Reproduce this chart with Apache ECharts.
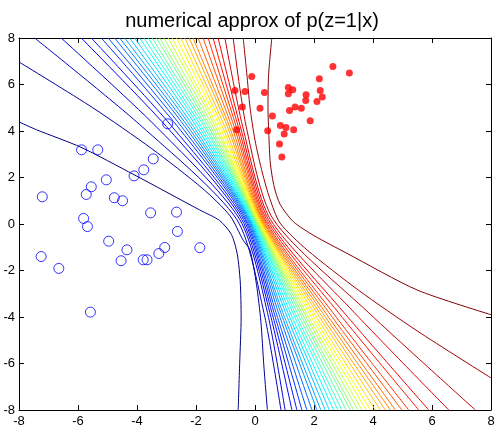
<!DOCTYPE html>
<html><head><meta charset="utf-8">
<script src="https://cdn.jsdelivr.net/npm/echarts@6/dist/echarts.min.js"></script>
<style>html,body{margin:0;padding:0;background:#fff}#c{width:498px;height:429px}</style>
</head><body><div id="c"></div>
<script>
const titleText = 'numerical approx of p(z=1|x)';
const axisMin = -8, axisMax = 8, axisStep = 2;

// class 0 samples (open blue circles)
const blueX = [-5.88,-5.33,-3.45,-3.77,-4.10,-5.04,-7.21,-5.55,-5.72,-4.77,-4.49,-3.54,-2.66,-5.81,-5.68,-2.63,-4.96,-4.34,-3.06,-3.26,-7.25,-4.54,-3.79,-3.66,-6.65,-5.58,-1.87,-2.96];
const blueY = [3.19,3.19,2.80,2.33,2.07,1.90,1.17,1.60,1.27,1.13,1.00,0.48,0.51,0.24,-0.11,-0.32,-0.74,-1.11,-1.01,-1.27,-1.40,-1.58,-1.54,-1.54,-1.91,-3.79,-1.02,4.31];

// class 1 samples (filled red dots)
const redX = [-0.11,-0.68,-0.34,0.32,-0.43,0.17,1.13,1.28,1.13,0.59,1.17,1.36,1.57,1.73,1.72,2.10,2.21,2.28,2.18,2.64,3.20,1.87,0.86,1.05,1.31,0.99,0.43,-0.62,0.83,0.91];
const redY = [6.34,5.74,5.70,5.66,5.03,4.98,5.87,5.77,5.60,4.65,4.88,5.03,4.98,5.56,5.31,5.27,5.74,5.46,6.25,6.77,6.49,4.44,4.24,4.15,4.05,3.87,4.01,4.05,3.44,2.88];

// contour lines of p(z=1|x), lowest level first
const contourLines = [
 [[-8,4.39],[-7.4,4.05],[-5.9,3.3],[-4.1,2.12],[-1.87,0.6],[-1.2,0.15],[-0.8,-0.45],[-0.6,-1.3],[-0.5,-2.5],[-0.47,-4],[-0.52,-6],[-0.57,-8]],
 [[-8,6.97],[-5.5,5.0],[-3.5,3.24],[-1.77,1.52],[-0.85,0.36],[-0.4,-0.7],[-0.17,-1.12],[0.05,-2.6],[0.2,-4.2],[0.3,-6.1],[0.42,-8]],
 [[-7.47,8],[-3.84,4.2],[-0.62,0.2],[0.30,-3.8],[0.88,-8]],
 [[-6.57,8],[-3.36,4.2],[-0.52,0.2],[0.42,-3.8],[1.02,-8]],
 [[-5.89,8],[-3.01,4.2],[-0.45,0.2],[0.50,-3.8],[1.25,-8]],
 [[-5.55,8],[-2.82,4.2],[-0.39,0.2],[0.57,-3.8],[1.42,-8]],
 [[-5.21,8],[-2.63,4.2],[-0.34,0.2],[0.64,-3.8],[1.59,-8]],
 [[-4.98,8],[-2.50,4.2],[-0.30,0.2],[0.71,-3.8],[1.76,-8]],
 [[-4.76,8],[-2.38,4.2],[-0.26,0.2],[0.79,-3.8],[1.93,-8]],
 [[-4.59,8],[-2.28,4.2],[-0.23,0.2],[0.87,-3.8],[2.10,-8]],
 [[-4.42,8],[-2.18,4.2],[-0.20,0.2],[0.94,-3.8],[2.23,-8]],
 [[-4.25,8],[-2.09,4.2],[-0.17,0.2],[1.03,-3.8],[2.38,-8]],
 [[-4.08,8],[-1.99,4.2],[-0.14,0.2],[1.11,-3.8],[2.52,-8]],
 [[-3.91,8],[-1.90,4.2],[-0.11,0.2],[1.19,-3.8],[2.66,-8]],
 [[-3.77,8],[-1.82,4.2],[-0.085,0.2],[1.28,-3.8],[2.81,-8]],
 [[-3.62,8],[-1.73,4.2],[-0.06,0.2],[1.35,-3.8],[2.94,-8]],
 [[-3.49,8],[-1.66,4.2],[-0.035,0.2],[1.43,-3.8],[3.09,-8]],
 [[-3.34,8],[-1.58,4.2],[-0.01,0.2],[1.51,-3.8],[3.23,-8]],
 [[-3.23,8],[-1.51,4.2],[0.01,0.2],[1.58,-3.8],[3.34,-8]],
 [[-3.09,8],[-1.43,4.2],[0.035,0.2],[1.66,-3.8],[3.49,-8]],
 [[-2.94,8],[-1.35,4.2],[0.06,0.2],[1.73,-3.8],[3.62,-8]],
 [[-2.81,8],[-1.28,4.2],[0.085,0.2],[1.82,-3.8],[3.77,-8]],
 [[-2.66,8],[-1.19,4.2],[0.11,0.2],[1.90,-3.8],[3.91,-8]],
 [[-2.52,8],[-1.11,4.2],[0.14,0.2],[1.99,-3.8],[4.08,-8]],
 [[-2.38,8],[-1.03,4.2],[0.17,0.2],[2.09,-3.8],[4.25,-8]],
 [[-2.23,8],[-0.94,4.2],[0.20,0.2],[2.18,-3.8],[4.42,-8]],
 [[-2.10,8],[-0.87,4.2],[0.23,0.2],[2.28,-3.8],[4.59,-8]],
 [[-1.93,8],[-0.79,4.2],[0.26,0.2],[2.38,-3.8],[4.76,-8]],
 [[-1.76,8],[-0.71,4.2],[0.30,0.2],[2.50,-3.8],[4.98,-8]],
 [[-1.59,8],[-0.64,4.2],[0.34,0.2],[2.63,-3.8],[5.21,-8]],
 [[-1.42,8],[-0.57,4.2],[0.39,0.2],[2.82,-3.8],[5.55,-8]],
 [[-1.25,8],[-0.50,4.2],[0.45,0.2],[3.01,-3.8],[5.89,-8]],
 [[-1.02,8],[-0.42,4.2],[0.52,0.2],[3.36,-3.8],[6.57,-8]],
 [[-0.74,8],[-0.30,4.2],[0.62,0.2],[3.84,-3.8],[7.47,-8]],
 [[-0.4,8],[-0.28,6.5],[-0.17,5.03],[0,3.6],[0.25,2.2],[0.5,1.1],[0.85,0.04],[1.77,-1.12],[3.5,-2.84],[5.5,-4.6],[8,-6.62]],
 [[0.57,8],[0.46,6.4],[0.44,5],[0.47,3.8],[0.52,2.6],[0.65,1.6],[0.85,0.85],[1.3,0.1],[2,-0.5],[3.1,-1.25],[5.5,-2.84],[8,-3.9]]
];

function jet(t){
  const c = v => Math.round(255*Math.max(0, Math.min(1, v)));
  return 'rgb(' + c(1.5-Math.abs(4*t-3)) + ',' + c(1.5-Math.abs(4*t-2)) + ',' + c(1.5-Math.abs(4*t-1)) + ')';
}

const chart = echarts.init(document.getElementById('c'), null, {renderer:'canvas'});
const font = 'Liberation Sans, Arial, sans-serif';
const axisCommon = {
  type:'value', min:axisMin, max:axisMax, interval:axisStep,
  splitLine:{show:false},
  axisLine:{show:true, onZero:false, lineStyle:{color:'#000', width:1}},
  axisTick:{show:true, inside:true, length:5, lineStyle:{color:'#000'}}
};
const series = contourLines.map((pts, i) => ({
  type:'line', data:pts, xAxisIndex:0, yAxisIndex:0,
  showSymbol:false, symbol:'none', smooth:0.25, clip:true, silent:true,
  lineStyle:{color:jet(i/(contourLines.length-1)), width:1},
  z:2
}));
series.push({
  type:'scatter', data:blueX.map((x,i)=>[x,blueY[i]]), symbol:'circle', symbolSize:10,
  itemStyle:{color:'rgba(0,0,0,0)', borderColor:'#0000ff', borderWidth:1}, z:3, silent:true
});
series.push({
  type:'scatter', data:redX.map((x,i)=>[x,redY[i]]), symbol:'circle', symbolSize:7,
  itemStyle:{color:'#ff0000'}, z:3, silent:true
});

chart.setOption({
  animation:false,
  backgroundColor:'#fff',
  title:{text:titleText, left:247, textAlign:'center', top:6,
    textStyle:{fontFamily:font, fontSize:20, fontWeight:'normal', color:'#000'}},
  grid:{left:19, right:7, top:38, bottom:19, containLabel:false},
  xAxis:[
    Object.assign({}, axisCommon, {position:'bottom', axisLabel:{show:true, margin:5, color:'#000', fontFamily:font, fontSize:13}}),
    Object.assign({}, axisCommon, {position:'top', axisLabel:{show:false}})
  ],
  yAxis:[
    Object.assign({}, axisCommon, {position:'left', axisLabel:{show:true, margin:4, color:'#000', fontFamily:font, fontSize:13}}),
    Object.assign({}, axisCommon, {position:'right', axisLabel:{show:false}})
  ],
  series:series
});
</script></body></html>
